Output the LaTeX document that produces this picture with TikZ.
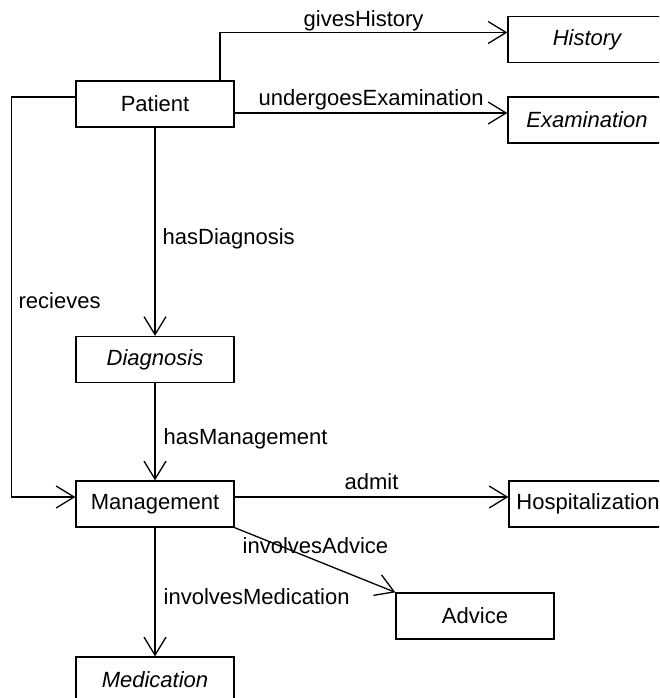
\documentclass[tikz,border=0pt]{standalone}
\usepackage{fontspec}
\setmainfont{Liberation Sans}
\usetikzlibrary{arrows.meta}
\begin{document}
\begin{tikzpicture}[x=1pt,y=-1pt,line width=1.3pt,
  box/.style={draw,minimum width=158pt,minimum height=46pt,inner sep=0pt,font=\fontsize{22}{26}\selectfont},
  itbox/.style={box,font=\fontsize{22}{26}\selectfont\itshape},
  lbl/.style={anchor=base west,inner sep=0pt,font=\fontsize{22}{26}\selectfont},
  arr/.style={-{Straight Barb[length=18pt,width=22pt]}}]
\clip (0,0) rectangle (659,698);
\node[box] (P) at (155,104) {Patient};
\node[itbox] (H) at (587,39.5) {History};
\node[itbox] (E) at (587,120) {Examination};
\node[itbox] (D) at (155,359.5) {Diagnosis};
\node[box] (M) at (155,504) {Management};
\node[box] (Hs) at (588,504) {Hospitalization};
\node[box] (A) at (475,616) {Advice};
\node[itbox] (Med) at (155,680) {Medication};

\draw[arr] ([xshift=65pt]P.north) |- ([yshift=7pt]H.west);
\draw[arr] ([yshift=7pt]E.west -| P.east) -- ([yshift=7pt]E.west);
\draw[arr] ([yshift=7pt]P.west) -- ++(-64,0) |- ([yshift=7pt]M.west);
\draw[arr] (P) -- (D);
\draw[arr] (D) -- (M);
\draw[arr] ([yshift=7pt]M.east) -- ([yshift=7pt]Hs.west);
\draw[arr] (M.south east) -- (A.north west);
\draw[arr] (M) -- (Med);

\node[lbl] (l1) at (303,27) {givesHistory};
\node[lbl] (l2) at (258,106) {undergoesExamination};
\node[lbl] (l3) at (162,244) {hasDiagnosis};
\node[lbl] (l4) at (18,308) {recieves};
\node[lbl] (l5) at (163,444) {hasManagement};
\node[lbl] (l6) at (344,489) {admit};
\node[lbl] (l7) at (242,553) {involvesAdvice};
\node[lbl] (l8) at (163,604) {involvesMedication};
\end{tikzpicture}
\end{document}
